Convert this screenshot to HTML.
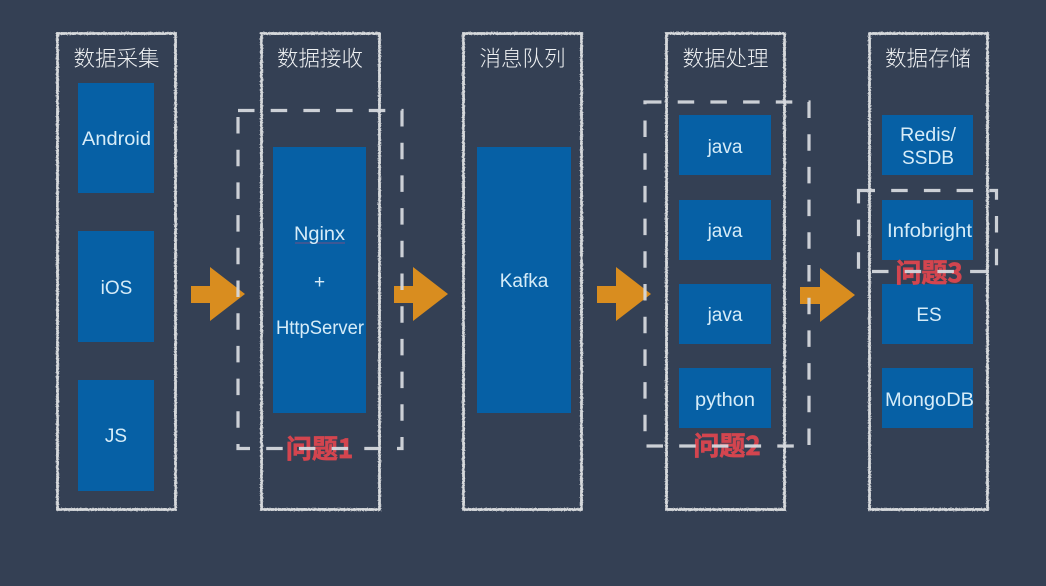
<!DOCTYPE html>
<html>
<head>
<meta charset="utf-8">
<style>
html,body{margin:0;padding:0;background:#344054;width:1046px;height:586px;overflow:hidden}
svg{display:block}
text{font-family:"Liberation Sans","Noto Sans CJK SC",sans-serif;text-anchor:middle}
.t{font-size:21.500px;fill:#eef0f2;font-family:"Noto Sans CJK SC","Liberation Sans",sans-serif;font-weight:300}
.l{font-size:19px;fill:#d6ecf8}
.r{font-size:26px;fill:#d3454f;stroke:#d3454f;stroke-width:.7;font-family:"Noto Sans CJK SC","Liberation Sans",sans-serif;font-weight:700}
.b{fill:#0660a5}
.o{fill:none;stroke:#d6d9dc;stroke-width:2.8}
.a{fill:#d98d1f}
.d{fill:none;stroke:#d5d8dd;stroke-width:3.200;stroke-dasharray:16.5 16.2;opacity:.95}
</style>
</head>
<body>
<svg width="1046" height="586" viewBox="0 0 1046 586" xmlns="http://www.w3.org/2000/svg">
<defs>
<filter id="rough" x="-5%" y="-5%" width="110%" height="110%">
<feTurbulence type="fractalNoise" baseFrequency="0.7" numOctaves="2" seed="3"/>
<feDisplacementMap in="SourceGraphic" scale="2"/>
</filter>
</defs>
<rect width="1046" height="586" fill="#344054"/>

<g filter="url(#rough)">
<rect class="o" x="57.500" y="33.500" width="118" height="476"/>
<rect class="o" x="261.500" y="33.500" width="118" height="476"/>
<rect class="o" x="463.500" y="33.500" width="118" height="476"/>
<rect class="o" x="666.500" y="33.500" width="118" height="476"/>
<rect class="o" x="869.500" y="33.500" width="118" height="476"/>
</g>

<rect class="b" x="78" y="83" width="76" height="110"/>
<rect class="b" x="78" y="231" width="76" height="111"/>
<rect class="b" x="78" y="380" width="76" height="111"/>
<rect class="b" x="273" y="147" width="93" height="266"/>
<rect class="b" x="477" y="147" width="94" height="266"/>
<rect class="b" x="679" y="115" width="92" height="60"/>
<rect class="b" x="679" y="200" width="92" height="60"/>
<rect class="b" x="679" y="284" width="92" height="60"/>
<rect class="b" x="679" y="368" width="92" height="60"/>
<rect class="b" x="882" y="115" width="91" height="60"/>
<rect class="b" x="882" y="200" width="91" height="60"/>
<rect class="b" x="882" y="284" width="91" height="60"/>
<rect class="b" x="882" y="368" width="91" height="60"/>

<polygon class="a" points="191,286 210,286 210,267 245,294 210,321 210,303 191,303"/>
<polygon class="a" points="394,286 413,286 413,267 448,294 413,321 413,303 394,303"/>
<polygon class="a" points="597,286 616,286 616,267 651,294 616,321 616,303 597,303"/>
<polygon class="a" points="800,287 820,287 820,268 855,295 820,322 820,304 800,304"/>

<text class="t" x="116.500" y="66">数据采集</text>
<text class="t" x="320" y="66">数据接收</text>
<text class="t" x="522.500" y="66">消息队列</text>
<text class="t" x="725.500" y="66">数据处理</text>
<text class="t" x="928" y="66">数据存储</text>

<text class="l" x="116.500" y="145" textLength="69" lengthAdjust="spacingAndGlyphs">Android</text>
<text class="l" x="116.500" y="294">iOS</text>
<text class="l" x="116" y="442">JS</text>
<line x1="295" y1="243" x2="345" y2="243" stroke="#a04a78" stroke-width="1" opacity=".7"/>
<text class="l" x="319.500" y="240" textLength="51" lengthAdjust="spacingAndGlyphs">Nginx</text>
<text class="l" x="319.500" y="288">+</text>
<text class="l" x="320" y="334" textLength="88" lengthAdjust="spacingAndGlyphs">HttpServer</text>
<text class="l" x="524" y="287">Kafka</text>
<text class="l" x="725" y="153">java</text>
<text class="l" x="725" y="237">java</text>
<text class="l" x="725" y="321">java</text>
<text class="l" x="725" y="406" textLength="60" lengthAdjust="spacingAndGlyphs">python</text>
<text class="l" x="928" y="141" textLength="56" lengthAdjust="spacingAndGlyphs">Redis/</text>
<text class="l" x="928" y="164" textLength="52" lengthAdjust="spacingAndGlyphs">SSDB</text>
<text class="l" x="929.500" y="237" textLength="85" lengthAdjust="spacingAndGlyphs">Infobright</text>
<text class="l" x="929" y="321">ES</text>
<text class="l" x="929.500" y="406" textLength="89" lengthAdjust="spacingAndGlyphs">MongoDB</text>

<text class="r" x="319.500" y="458">问题1</text>
<text class="r" x="727" y="455">问题2</text>
<text class="r" x="929" y="282">问题3</text>

<rect class="d" x="238" y="110.500" width="164" height="338"/>
<rect class="d" x="645" y="102" width="164" height="344"/>
<rect class="d" x="858.500" y="190.500" width="138" height="81"/>
</svg>
</body>
</html>
